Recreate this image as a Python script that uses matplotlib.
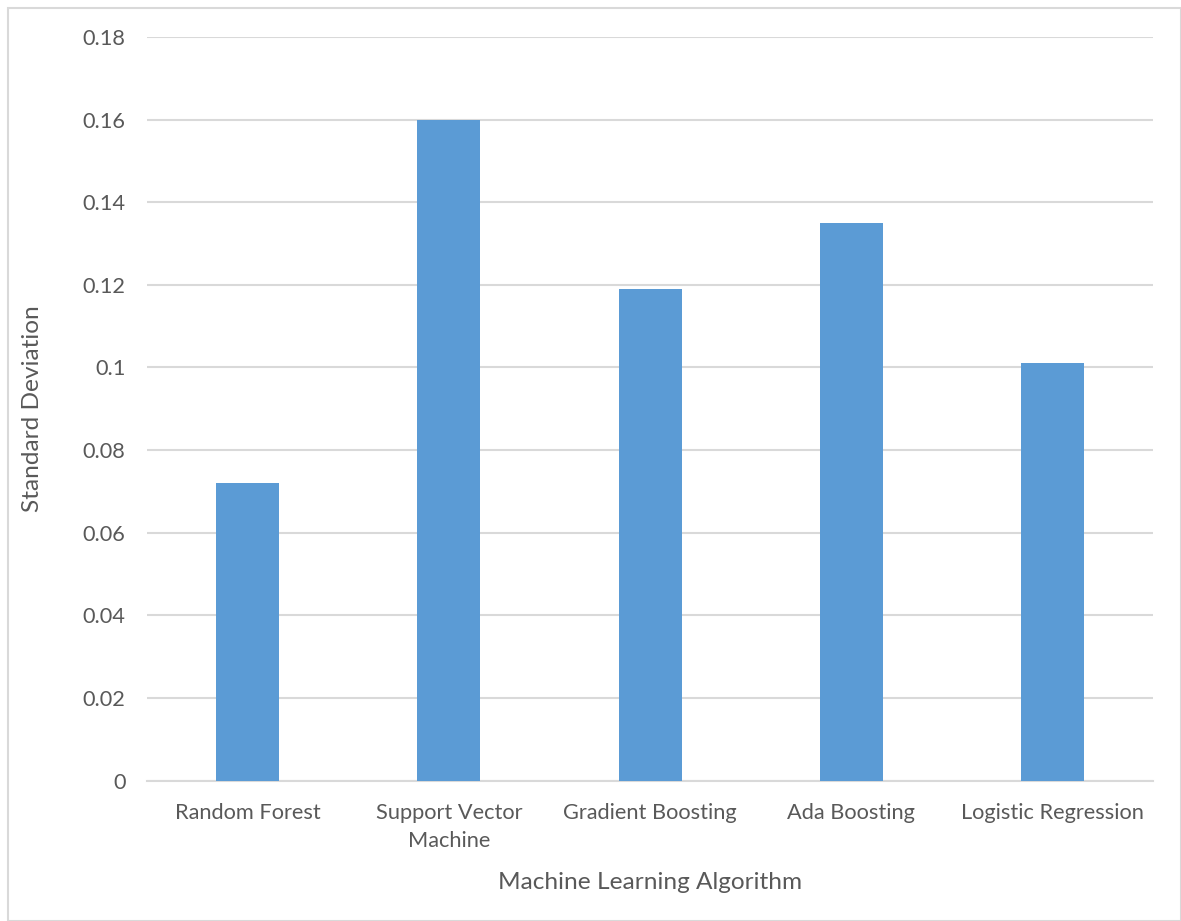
import matplotlib
matplotlib.use("Agg")
import matplotlib.pyplot as plt
from matplotlib.patches import Rectangle

# standard deviation of the score for each model
algorithms = ["Random Forest", "Support Vector\nMachine", "Gradient Boosting",
              "Ada Boosting", "Logistic Regression"]
std_dev = [0.072, 0.160, 0.119, 0.135, 0.101]
y_ticks = [0, 0.02, 0.04, 0.06, 0.08, 0.1, 0.12, 0.14, 0.16, 0.18]
y_tick_labels = ["0", "0.02", "0.04", "0.06", "0.08", "0.1", "0.12", "0.14", "0.16", "0.18"]

plt.rcParams['font.family'] = ['Lato', 'DejaVu Sans']
text_col = "#595959"
grid_col = "#d9d9d9"

fig = plt.figure(figsize=(11.81, 9.21), dpi=100)
fig.patches.append(Rectangle((8 / 1181, 0.5 / 921), 1 - 8.5 / 1181, 1 - 8.5 / 921,
                             transform=fig.transFigure, fill=False,
                             edgecolor=grid_col, linewidth=1.5))

ax = fig.add_axes([0.1245, 0.1525, 0.8518, 0.8073])
x = range(len(algorithms))
ax.bar(x, std_dev, width=0.313, color="#5b9bd5", zorder=3)

ax.set_xlim(-0.5, len(algorithms) - 0.5)
ax.set_ylim(0, 0.18)
ax.set_yticks(y_ticks)
ax.set_yticklabels(y_tick_labels)
ax.set_xticks(list(x))
ax.set_xticklabels(algorithms, linespacing=1.5)
ax.yaxis.grid(True, color=grid_col, linewidth=1.5, zorder=0)
ax.set_axisbelow(True)

for side in ["top", "right", "left"]:
    ax.spines[side].set_visible(False)
ax.spines["bottom"].set_color(grid_col)
ax.spines["bottom"].set_linewidth(1.5)
ax.tick_params(axis="both", length=0, labelsize=15.7, colors=text_col)
ax.tick_params(axis="y", pad=15.5)
ax.tick_params(axis="x", pad=16.3)

ax.set_ylabel("Standard Deviation", fontsize=17.6, color=text_col)
ax.yaxis.set_label_coords(-0.103, 0.5)
ax.set_xlabel("Machine Learning Algorithm", fontsize=17.6, color=text_col, labelpad=15)

fig.savefig("out.png", dpi=100)
